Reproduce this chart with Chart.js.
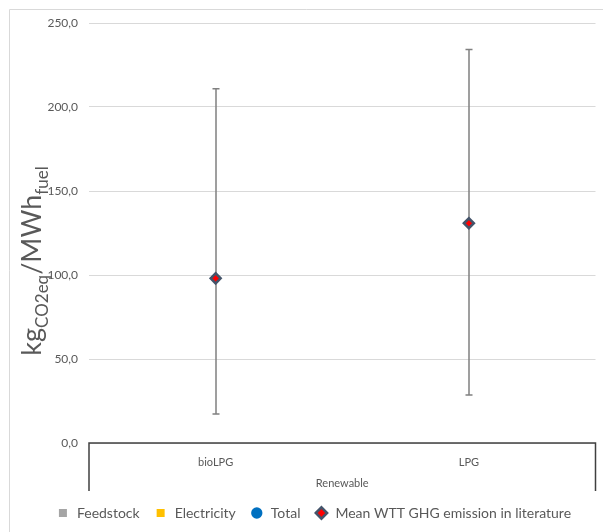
<!DOCTYPE html>
<html>
<head>
<meta charset="utf-8">
<script src="https://cdn.jsdelivr.net/npm/chart.js@4/dist/chart.umd.min.js"></script>
<style>
  html, body { margin: 0; padding: 0; background: #ffffff; }
  #wrap { width: 603px; height: 532px; position: relative; }
</style>
</head>
<body>
<div id="wrap"><canvas id="c"></canvas></div>
<script>
// Fuel pathways and their group
const categories = ['bioLPG', 'LPG'];
const groupLabel = 'Renewable';

// Well-to-tank GHG emissions, kgCO2eq/MWh fuel
const feedstock = [null, null];
const electricity = [null, null];
const total = [null, null];
const literatureMean = [98.0, 130.8];
const literatureLow = [17.3, 28.6];
const literatureHigh = [210.8, 234.2];

// Value axis
const yMin = 0;
const yMax = 250;
const yStep = 50;

const FONT = 'Lato, "Open Sans", sans-serif';
const TEXT = '#595959';

// Light frame around the whole chart
const framePlugin = {
  id: 'frame',
  beforeDraw(chart) {
    const ctx = chart.ctx;
    ctx.save();
    ctx.strokeStyle = '#d9d9d9';
    ctx.lineWidth = 1;
    ctx.beginPath();
    ctx.moveTo(9.5, chart.height);
    ctx.lineTo(9.5, 9.5);
    ctx.lineTo(chart.width, 9.5);
    ctx.stroke();
    ctx.restore();
  }
};

// Min/max range whiskers around the literature mean
const rangePlugin = {
  id: 'rangeBars',
  beforeDatasetsDraw(chart) {
    const x = chart.scales.x, y = chart.scales.y, ctx = chart.ctx;
    ctx.save();
    ctx.strokeStyle = '#808080';
    ctx.lineWidth = 1.5;
    categories.forEach((c, i) => {
      const px = Math.round(x.getPixelForValue(i));
      const top = y.getPixelForValue(literatureHigh[i]);
      const bot = y.getPixelForValue(literatureLow[i]);
      ctx.beginPath();
      ctx.moveTo(px, top); ctx.lineTo(px, bot);
      ctx.moveTo(px - 3.5, top); ctx.lineTo(px + 3.5, top);
      ctx.moveTo(px - 3.5, bot); ctx.lineTo(px + 3.5, bot);
      ctx.stroke();
    });
    ctx.restore();
  }
};

// Grouping bracket under the category axis, and the y-axis title with subscripts
const axisDecorPlugin = {
  id: 'axisDecor',
  afterDraw(chart) {
    const ctx = chart.ctx, area = chart.chartArea;
    ctx.save();
    ctx.strokeStyle = '#404040';
    ctx.lineWidth = 1.5;
    const base = chart.scales.y.getPixelForValue(yMin);
    ctx.beginPath();
    ctx.moveTo(area.left, base + 48);
    ctx.lineTo(area.left, base);
    ctx.lineTo(area.right, base);
    ctx.lineTo(area.right, base + 48);
    ctx.stroke();

    ctx.fillStyle = TEXT;
    ctx.font = '11px ' + FONT;
    ctx.textAlign = 'center';
    ctx.textBaseline = 'middle';
    ctx.fillText(groupLabel, (area.left + area.right) / 2, base + 40);

    // y title: kg_CO2eq / MWh_fuel
    const parts = [
      { t: 'kg', size: 27, dy: 0 },
      { t: 'CO2eq', size: 17, dy: 7 },
      { t: '/MWh', size: 27, dy: 0 },
      { t: 'fuel', size: 17, dy: 7 }
    ];
    let width = 0;
    parts.forEach(p => { ctx.font = p.size + 'px ' + FONT; p.w = ctx.measureText(p.t).width; width += p.w; });
    ctx.translate(32, (area.top + base) / 2 + 28);
    ctx.rotate(-Math.PI / 2);
    ctx.textAlign = 'left';
    ctx.textBaseline = 'alphabetic';
    let cx = -width / 2;
    parts.forEach(p => {
      ctx.font = p.size + 'px ' + FONT;
      ctx.fillText(p.t, cx, 9 + p.dy);
      cx += p.w;
    });
    ctx.restore();
  }
};

new Chart(document.getElementById('c'), {
  data: {
    labels: categories,
    datasets: [
      { type: 'bar', label: 'Feedstock', data: feedstock, backgroundColor: '#A5A5A5', pointStyle: 'rect' },
      { type: 'bar', label: 'Electricity', data: electricity, backgroundColor: '#FFC000', pointStyle: 'rect' },
      { type: 'line', label: 'Total', data: total, showLine: false, pointStyle: 'circle',
        backgroundColor: '#0070C0', borderColor: '#0070C0', borderWidth: 0, pointRadius: 5 },
      { type: 'line', label: 'Mean WTT GHG emission in literature', data: literatureMean, showLine: false,
        pointStyle: 'rectRot', pointRadius: 5, pointHoverRadius: 5,
        backgroundColor: '#FF0000', borderColor: '#44546A', borderWidth: 2.5 }
    ]
  },
  options: {
    responsive: true,
    maintainAspectRatio: false,
    animation: false,
    events: [],
    layout: { padding: { top: 23, right: 4, left: 28, bottom: 2 } },
    plugins: {
      tooltip: { enabled: false },
      legend: {
        position: 'bottom',
        labels: {
          usePointStyle: true,
          boxHeight: 8,
          padding: 14,
          color: TEXT,
          font: { family: FONT, size: 14 }
        }
      }
    },
    scales: {
      x: {
        type: 'category',
        offset: true,
        grid: { display: false },
        border: { display: false },
        ticks: { color: TEXT, font: { family: FONT, size: 11 }, padding: 5 },
        afterFit(s) { s.height = 49; }
      },
      y: {
        min: yMin,
        max: yMax,
        border: { display: false },
        grid: { color: '#d9d9d9', drawTicks: false },
        ticks: {
          stepSize: yStep,
          padding: 11,
          color: TEXT,
          font: { family: FONT, size: 12 },
          callback: v => v.toFixed(1).replace('.', ',')
        },
        afterFit(s) { s.width = 61; }
      }
    }
  },
  plugins: [framePlugin, rangePlugin, axisDecorPlugin]
});
</script>
</body>
</html>
